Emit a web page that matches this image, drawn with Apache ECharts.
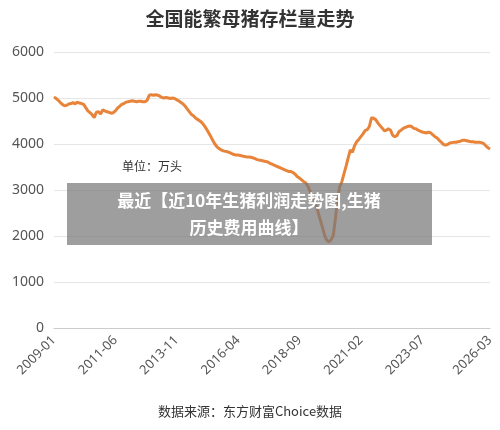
<!DOCTYPE html>
<html><head><meta charset="utf-8">
<script src="https://cdn.jsdelivr.net/npm/echarts@6/dist/echarts.min.js"></script>
<style>html,body{margin:0;padding:0;background:#fff}#c{width:500px;height:430px}</style>
</head><body><div id="c"></div>
<script>
const startYear = 2009, monthCount = 207;
const categories = [];
for (let i = 0; i < monthCount; i++) {
  const y = startYear + Math.floor(i / 12), m = i % 12 + 1;
  categories.push(y + '-' + (m < 10 ? '0' + m : m));
}
const sows = [
5020,4990,4950,4900,4860,4830,4840,4870,4880,4900,4870,4910,
4890,4880,4860,4790,4720,4680,4640,4570,4690,4700,4650,4740,
4720,4700,4690,4670,4680,4720,4780,4820,4860,4880,4910,4920,
4930,4940,4930,4920,4930,4930,4920,4920,4950,5060,5070,5060,
5070,5060,5040,5010,5000,5010,5000,4990,5000,4990,4960,4940,
4900,4870,4820,4760,4700,4640,4610,4560,4530,4500,4460,4400,
4330,4250,4170,4080,4000,3940,3900,3870,3850,3840,3830,3810,
3790,3770,3760,3760,3750,3740,3730,3720,3720,3710,3700,3680,
3660,3650,3640,3630,3620,3610,3580,3560,3540,3520,3500,3480,
3460,3440,3420,3400,3400,3380,3340,3290,3260,3220,3180,3150,
3080,2970,2870,2760,2640,2480,2320,2160,1990,1900,1880,1920,
2020,2400,2800,3070,3180,3350,3520,3700,3870,3820,3960,4050,
4100,4160,4220,4290,4310,4380,4570,4560,4530,4460,4400,4350,
4290,4300,4330,4300,4190,4160,4180,4270,4300,4340,4360,4380,
4390,4380,4340,4330,4300,4280,4260,4250,4240,4260,4240,4200,
4160,4130,4080,4040,3990,3980,3990,4020,4030,4040,4040,4050,
4060,4080,4080,4070,4060,4050,4050,4040,4040,4040,4030,4010,
3960,3920,3890];
const chart = echarts.init(document.getElementById('c'));
chart.setOption({
  animation:false,
  title:{text:'全国能繁母猪存栏量走势',left:'center',top:4,
    textStyle:{fontSize:19,fontWeight:'bold',color:'#333',fontFamily:'Noto Sans CJK SC'}},
  grid:{left:54,right:10,top:52,bottom:102},
  xAxis:{type:'category',data:categories,boundaryGap:false,
    axisLine:{lineStyle:{color:'#ccc'}},axisTick:{show:false},
    axisLabel:{interval:28,rotate:45,showMaxLabel:true,color:'#555',fontSize:13,fontFamily:'Noto Sans',margin:10}},
  yAxis:{type:'value',min:0,max:6000,interval:1000,
    axisLine:{show:false},axisTick:{show:false},
    axisLabel:{color:'#555',fontSize:14,fontFamily:'Noto Sans',margin:10,formatter:v=>String(v)},
    splitLine:{lineStyle:{color:'#e6e6e6'}}},
  series:[{type:'line',data:sows,showSymbol:false,smooth:false,
    lineStyle:{color:'#E8833A',width:3},itemStyle:{color:'#E8833A'}}],
  graphic:[
    {type:'text',left:122,top:160,style:{text:'单位：万头',fontSize:12,fill:'#333',fontFamily:'Noto Sans CJK SC'}},
    {type:'text',left:'center',top:405,style:{text:'数据来源：东方财富Choice数据',fontSize:13,fill:'#333',fontFamily:'Noto Sans CJK SC'}},
    {type:'rect',shape:{x:67,y:183,width:365,height:62},style:{fill:'rgba(120,120,120,0.72)'},z:100},
    {type:'text',z:101,style:{x:249,y:214,text:'最近【近10年生猪利润走势图,生猪\n历史费用曲线】',align:'center',verticalAlign:'middle',
      fontSize:17,fontWeight:'bold',fill:'#fff',lineHeight:27,fontFamily:'Noto Sans CJK SC'}}
  ]
});
</script></body></html>
